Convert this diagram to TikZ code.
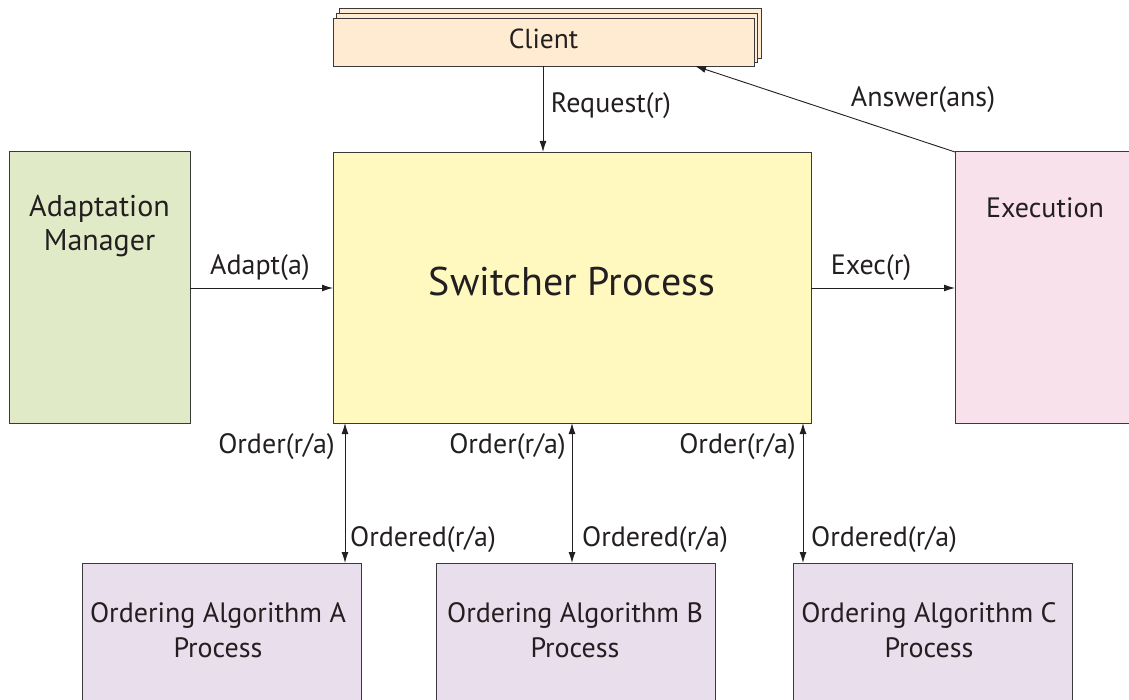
\documentclass[tikz,border=0pt]{standalone}
\usepackage{fontspec}
\setmainfont{PT Sans}
\usetikzlibrary{arrows.meta}
\definecolor{clientfill}{HTML}{FEEBD2}
\definecolor{switchfill}{HTML}{FFF9C0}
\definecolor{adaptfill}{HTML}{E1EAC6}
\definecolor{execfill}{HTML}{F9E1EC}
\definecolor{orderfill}{HTML}{E9DEEC}
\definecolor{edge}{HTML}{3A3A3A}
\definecolor{ink}{HTML}{231F20}
\tikzset{
  box/.style={draw=edge, line width=0.9pt},
  conn/.style={draw=ink, line width=0.9pt, -{Latex[length=11pt,width=7pt]}},
  biconn/.style={draw=ink, line width=0.9pt, {Latex[length=11pt,width=7pt]}-{Latex[length=11pt,width=7pt]}},
  lbl/.style={text=ink, font=\fontsize{28}{32}\selectfont, inner sep=0pt},
  boxtext/.style={text=ink, font=\fontsize{28}{35}\selectfont, align=center, inner sep=0pt},
}
\begin{document}
\begin{tikzpicture}[x=1pt,y=-1pt]
\useasboundingbox (0,0) rectangle (1129,700);
\clip (0,0) rectangle (1129,700);
% client stack
\draw[box, fill=clientfill] (339,8) rectangle (761,58);
\draw[box, fill=clientfill] (336,13) rectangle (757,62);
\draw[box, fill=clientfill] (333,18) rectangle (754,66);
\node[boxtext, font=\fontsize{27.5}{34}\selectfont] (client) at (543.5,39) {Client};
\coordinate (clientbot) at (543,66);
\coordinate (clientin) at (695,66);
% main boxes
\draw[box, fill=switchfill] (333,152) rectangle (811,423);
\node[text=ink, font=\fontsize{40}{44}\selectfont, inner sep=0pt] (switcher) at (572,282) {Switcher Process};
\draw[box, fill=adaptfill] (9,151) rectangle (190,423);
\node[boxtext, font=\fontsize{30}{34}\selectfont] (adapt) at (99.5,226) {Adaptation\\Manager};
\draw[box, fill=execfill] (955,151) rectangle (1140,423);
\node[boxtext] (exec) at (1045,208) {Execution};
% ordering processes
\draw[box, fill=orderfill] (82,563) rectangle (361,710);
\node[boxtext] (ordA) at (218,630) {Ordering Algorithm A\\Process};
\draw[box, fill=orderfill] (436,563) rectangle (715,710);
\node[boxtext] (ordB) at (575,630) {Ordering Algorithm B\\Process};
\draw[box, fill=orderfill] (793,563) rectangle (1072,710);
\node[boxtext] (ordC) at (929,630) {Ordering Algorithm C\\Process};
% connector end points
\coordinate (swtop) at (543,152);
\coordinate (execcorner) at (955,152);
\coordinate (adaptout) at (190,288);
\coordinate (swin) at (333,288);
\coordinate (swout) at (811,288);
\coordinate (execin) at (955,288);
\coordinate (swA) at (345,423);
\coordinate (inA) at (345,563);
\coordinate (swB) at (572,423);
\coordinate (inB) at (572,563);
\coordinate (swC) at (803,423);
\coordinate (inC) at (803,563);
% connectors
\draw[conn] (clientbot) -- (swtop);
\node[lbl] (lreq) at (611,106) {Request(r)};
\draw[conn] (execcorner) -- (clientin);
\node[lbl] (lans) at (923,100) {Answer(ans)};
\draw[conn] (adaptout) -- (swin);
\node[lbl] (ladapt) at (260,268) {Adapt(a)};
\draw[conn] (swout) -- (execin);
\node[lbl] (lexec) at (871,268) {Exec(r)};
\draw[biconn] (swA) -- (inA);
\draw[biconn] (swB) -- (inB);
\draw[biconn] (swC) -- (inC);
\node[lbl, anchor=east] (loA) at (335,447) {Order(r/a)};
\node[lbl, anchor=east] (loB) at (566,447) {Order(r/a)};
\node[lbl, anchor=east] (loC) at (796,447) {Order(r/a)};
\node[lbl, anchor=west] (ldA) at (350,540) {Ordered(r/a)};
\node[lbl, anchor=west] (ldB) at (582,540) {Ordered(r/a)};
\node[lbl, anchor=west] (ldC) at (811,540) {Ordered(r/a)};
\end{tikzpicture}
\end{document}
